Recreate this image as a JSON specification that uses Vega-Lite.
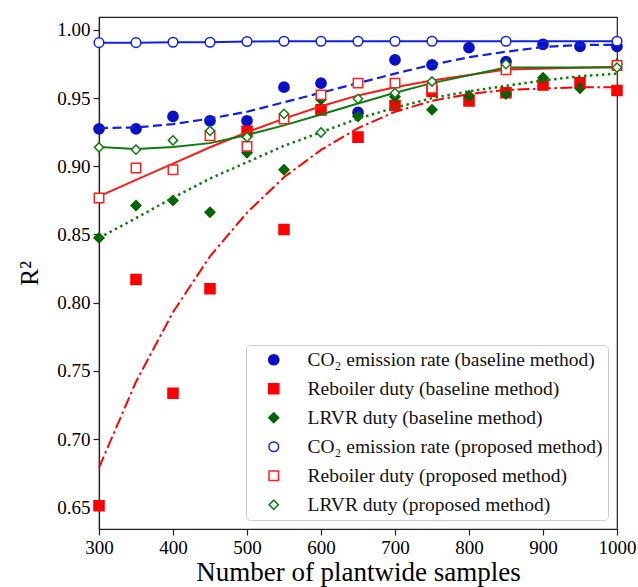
{
  "$schema": "https://vega.github.io/schema/vega-lite/v6.json",
  "width": 518,
  "height": 512,
  "autosize": {"type": "none"},
  "padding": {"left": 99, "top": 17, "right": 21, "bottom": 58},
  "background": "white",
  "config": {
    "view": {"stroke": "#222", "strokeWidth": 1.2},
    "axis": {
      "labelFont": "Liberation Serif", "labelFontSize": 19, "labelColor": "#000", "labelFlush": false, "labelOverlap": false,
      "titleFont": "Liberation Serif", "titleFontSize": 26, "titleFontWeight": "normal", "titleColor": "#000",
      "domainColor": "#222", "tickColor": "#222", "tickSize": 6, "domainWidth": 1.2, "tickWidth": 1.2, "grid": false
    },
    "legend": {
      "orient": "bottom-right", "offset": 9, "title": null,
      "labelFont": "Liberation Serif", "labelFontSize": 19.5, "labelColor": "#111", "labelLimit": 400,
      "padding": 5, "rowPadding": 8, "strokeColor": "#cccccc", "fillColor": "rgba(255,255,255,0.85)", "cornerRadius": 4,
      "symbolOffset": 13, "labelOffset": 24, "symbolStrokeWidth": 1.5
    }
  },
  "datasets": {
    "pts": [
      {"n": 300, "r2": 0.9275, "s": "CO₂ emission rate (baseline method)"},
      {"n": 350, "r2": 0.9275, "s": "CO₂ emission rate (baseline method)"},
      {"n": 400, "r2": 0.9366, "s": "CO₂ emission rate (baseline method)"},
      {"n": 450, "r2": 0.9334, "s": "CO₂ emission rate (baseline method)"},
      {"n": 500, "r2": 0.9334, "s": "CO₂ emission rate (baseline method)"},
      {"n": 550, "r2": 0.958, "s": "CO₂ emission rate (baseline method)"},
      {"n": 600, "r2": 0.961, "s": "CO₂ emission rate (baseline method)"},
      {"n": 650, "r2": 0.9395, "s": "CO₂ emission rate (baseline method)"},
      {"n": 700, "r2": 0.978, "s": "CO₂ emission rate (baseline method)"},
      {"n": 750, "r2": 0.9744, "s": "CO₂ emission rate (baseline method)"},
      {"n": 800, "r2": 0.987, "s": "CO₂ emission rate (baseline method)"},
      {"n": 850, "r2": 0.9768, "s": "CO₂ emission rate (baseline method)"},
      {"n": 900, "r2": 0.9895, "s": "CO₂ emission rate (baseline method)"},
      {"n": 950, "r2": 0.988, "s": "CO₂ emission rate (baseline method)"},
      {"n": 1000, "r2": 0.988, "s": "CO₂ emission rate (baseline method)"},
      {"n": 300, "r2": 0.651, "s": "Reboiler duty (baseline method)"},
      {"n": 350, "r2": 0.817, "s": "Reboiler duty (baseline method)"},
      {"n": 400, "r2": 0.7335, "s": "Reboiler duty (baseline method)"},
      {"n": 450, "r2": 0.8102, "s": "Reboiler duty (baseline method)"},
      {"n": 500, "r2": 0.9256, "s": "Reboiler duty (baseline method)"},
      {"n": 550, "r2": 0.8536, "s": "Reboiler duty (baseline method)"},
      {"n": 600, "r2": 0.9414, "s": "Reboiler duty (baseline method)"},
      {"n": 650, "r2": 0.9214, "s": "Reboiler duty (baseline method)"},
      {"n": 700, "r2": 0.9446, "s": "Reboiler duty (baseline method)"},
      {"n": 750, "r2": 0.955, "s": "Reboiler duty (baseline method)"},
      {"n": 800, "r2": 0.948, "s": "Reboiler duty (baseline method)"},
      {"n": 850, "r2": 0.954, "s": "Reboiler duty (baseline method)"},
      {"n": 900, "r2": 0.9597, "s": "Reboiler duty (baseline method)"},
      {"n": 950, "r2": 0.9614, "s": "Reboiler duty (baseline method)"},
      {"n": 1000, "r2": 0.9556, "s": "Reboiler duty (baseline method)"},
      {"n": 300, "r2": 0.8475, "s": "LRVR duty (baseline method)"},
      {"n": 350, "r2": 0.8712, "s": "LRVR duty (baseline method)"},
      {"n": 400, "r2": 0.875, "s": "LRVR duty (baseline method)"},
      {"n": 450, "r2": 0.8663, "s": "LRVR duty (baseline method)"},
      {"n": 500, "r2": 0.910, "s": "LRVR duty (baseline method)"},
      {"n": 550, "r2": 0.8975, "s": "LRVR duty (baseline method)"},
      {"n": 600, "r2": 0.949, "s": "LRVR duty (baseline method)"},
      {"n": 650, "r2": 0.9366, "s": "LRVR duty (baseline method)"},
      {"n": 700, "r2": 0.951, "s": "LRVR duty (baseline method)"},
      {"n": 750, "r2": 0.9414, "s": "LRVR duty (baseline method)"},
      {"n": 800, "r2": 0.9517, "s": "LRVR duty (baseline method)"},
      {"n": 850, "r2": 0.9531, "s": "LRVR duty (baseline method)"},
      {"n": 900, "r2": 0.965, "s": "LRVR duty (baseline method)"},
      {"n": 950, "r2": 0.9573, "s": "LRVR duty (baseline method)"},
      {"n": 1000, "r2": 0.975, "s": "LRVR duty (baseline method)"},
      {"n": 300, "r2": 0.9907, "s": "CO₂ emission rate (proposed method)"},
      {"n": 350, "r2": 0.9907, "s": "CO₂ emission rate (proposed method)"},
      {"n": 400, "r2": 0.991, "s": "CO₂ emission rate (proposed method)"},
      {"n": 450, "r2": 0.991, "s": "CO₂ emission rate (proposed method)"},
      {"n": 500, "r2": 0.9915, "s": "CO₂ emission rate (proposed method)"},
      {"n": 550, "r2": 0.9917, "s": "CO₂ emission rate (proposed method)"},
      {"n": 600, "r2": 0.9917, "s": "CO₂ emission rate (proposed method)"},
      {"n": 650, "r2": 0.9917, "s": "CO₂ emission rate (proposed method)"},
      {"n": 700, "r2": 0.9917, "s": "CO₂ emission rate (proposed method)"},
      {"n": 750, "r2": 0.9917, "s": "CO₂ emission rate (proposed method)"},
      {"n": 850, "r2": 0.9917, "s": "CO₂ emission rate (proposed method)"},
      {"n": 1000, "r2": 0.9917, "s": "CO₂ emission rate (proposed method)"},
      {"n": 300, "r2": 0.8768, "s": "Reboiler duty (proposed method)"},
      {"n": 350, "r2": 0.8988, "s": "Reboiler duty (proposed method)"},
      {"n": 400, "r2": 0.8975, "s": "Reboiler duty (proposed method)"},
      {"n": 450, "r2": 0.9224, "s": "Reboiler duty (proposed method)"},
      {"n": 500, "r2": 0.9146, "s": "Reboiler duty (proposed method)"},
      {"n": 550, "r2": 0.9346, "s": "Reboiler duty (proposed method)"},
      {"n": 600, "r2": 0.9524, "s": "Reboiler duty (proposed method)"},
      {"n": 650, "r2": 0.961, "s": "Reboiler duty (proposed method)"},
      {"n": 700, "r2": 0.961, "s": "Reboiler duty (proposed method)"},
      {"n": 750, "r2": 0.9573, "s": "Reboiler duty (proposed method)"},
      {"n": 850, "r2": 0.9707, "s": "Reboiler duty (proposed method)"},
      {"n": 1000, "r2": 0.9739, "s": "Reboiler duty (proposed method)"},
      {"n": 300, "r2": 0.9139, "s": "LRVR duty (proposed method)"},
      {"n": 350, "r2": 0.9122, "s": "LRVR duty (proposed method)"},
      {"n": 400, "r2": 0.919, "s": "LRVR duty (proposed method)"},
      {"n": 450, "r2": 0.926, "s": "LRVR duty (proposed method)"},
      {"n": 500, "r2": 0.9214, "s": "LRVR duty (proposed method)"},
      {"n": 550, "r2": 0.9385, "s": "LRVR duty (proposed method)"},
      {"n": 600, "r2": 0.9248, "s": "LRVR duty (proposed method)"},
      {"n": 650, "r2": 0.9495, "s": "LRVR duty (proposed method)"},
      {"n": 700, "r2": 0.9537, "s": "LRVR duty (proposed method)"},
      {"n": 750, "r2": 0.9622, "s": "LRVR duty (proposed method)"},
      {"n": 850, "r2": 0.9749, "s": "LRVR duty (proposed method)"},
      {"n": 1000, "r2": 0.9724, "s": "LRVR duty (proposed method)"}
    ],
    "fits": [
      {"n": 300, "r2": 0.928, "f": "co2b"}, {"n": 350, "r2": 0.9285, "f": "co2b"}, {"n": 400, "r2": 0.931, "f": "co2b"},
      {"n": 450, "r2": 0.935, "f": "co2b"}, {"n": 500, "r2": 0.940, "f": "co2b"}, {"n": 550, "r2": 0.947, "f": "co2b"},
      {"n": 600, "r2": 0.954, "f": "co2b"}, {"n": 650, "r2": 0.961, "f": "co2b"}, {"n": 700, "r2": 0.968, "f": "co2b"},
      {"n": 750, "r2": 0.9745, "f": "co2b"}, {"n": 800, "r2": 0.980, "f": "co2b"}, {"n": 850, "r2": 0.984, "f": "co2b"},
      {"n": 900, "r2": 0.9875, "f": "co2b"}, {"n": 950, "r2": 0.989, "f": "co2b"}, {"n": 1000, "r2": 0.989, "f": "co2b"},
      {"n": 300, "r2": 0.679, "f": "rebb"}, {"n": 350, "r2": 0.742, "f": "rebb"}, {"n": 400, "r2": 0.793, "f": "rebb"},
      {"n": 450, "r2": 0.834, "f": "rebb"}, {"n": 500, "r2": 0.866, "f": "rebb"}, {"n": 550, "r2": 0.892, "f": "rebb"},
      {"n": 600, "r2": 0.912, "f": "rebb"}, {"n": 650, "r2": 0.928, "f": "rebb"}, {"n": 700, "r2": 0.940, "f": "rebb"},
      {"n": 750, "r2": 0.948, "f": "rebb"}, {"n": 800, "r2": 0.953, "f": "rebb"}, {"n": 850, "r2": 0.956, "f": "rebb"},
      {"n": 900, "r2": 0.957, "f": "rebb"}, {"n": 950, "r2": 0.958, "f": "rebb"}, {"n": 1000, "r2": 0.958, "f": "rebb"},
      {"n": 300, "r2": 0.8475, "f": "lrvb"}, {"n": 350, "r2": 0.862, "f": "lrvb"}, {"n": 400, "r2": 0.877, "f": "lrvb"},
      {"n": 450, "r2": 0.891, "f": "lrvb"}, {"n": 500, "r2": 0.903, "f": "lrvb"}, {"n": 550, "r2": 0.915, "f": "lrvb"},
      {"n": 600, "r2": 0.925, "f": "lrvb"}, {"n": 650, "r2": 0.935, "f": "lrvb"}, {"n": 700, "r2": 0.943, "f": "lrvb"},
      {"n": 750, "r2": 0.950, "f": "lrvb"}, {"n": 800, "r2": 0.955, "f": "lrvb"}, {"n": 850, "r2": 0.959, "f": "lrvb"},
      {"n": 900, "r2": 0.963, "f": "lrvb"}, {"n": 950, "r2": 0.966, "f": "lrvb"}, {"n": 1000, "r2": 0.968, "f": "lrvb"},
      {"n": 300, "r2": 0.9907, "f": "co2p"}, {"n": 350, "r2": 0.9907, "f": "co2p"}, {"n": 400, "r2": 0.991, "f": "co2p"},
      {"n": 450, "r2": 0.991, "f": "co2p"}, {"n": 500, "r2": 0.9915, "f": "co2p"}, {"n": 550, "r2": 0.9917, "f": "co2p"},
      {"n": 600, "r2": 0.9917, "f": "co2p"}, {"n": 650, "r2": 0.9917, "f": "co2p"}, {"n": 700, "r2": 0.9917, "f": "co2p"},
      {"n": 750, "r2": 0.9917, "f": "co2p"}, {"n": 850, "r2": 0.9917, "f": "co2p"}, {"n": 1000, "r2": 0.9917, "f": "co2p"},
      {"n": 300, "r2": 0.878, "f": "rebp"}, {"n": 350, "r2": 0.890, "f": "rebp"}, {"n": 400, "r2": 0.902, "f": "rebp"},
      {"n": 450, "r2": 0.914, "f": "rebp"}, {"n": 500, "r2": 0.925, "f": "rebp"}, {"n": 550, "r2": 0.935, "f": "rebp"},
      {"n": 600, "r2": 0.944, "f": "rebp"}, {"n": 650, "r2": 0.952, "f": "rebp"}, {"n": 700, "r2": 0.958, "f": "rebp"},
      {"n": 750, "r2": 0.963, "f": "rebp"}, {"n": 850, "r2": 0.971, "f": "rebp"}, {"n": 1000, "r2": 0.973, "f": "rebp"},
      {"n": 300, "r2": 0.9141, "f": "lrvp"}, {"n": 350, "r2": 0.9127, "f": "lrvp"}, {"n": 400, "r2": 0.9141, "f": "lrvp"},
      {"n": 450, "r2": 0.917, "f": "lrvp"}, {"n": 500, "r2": 0.923, "f": "lrvp"}, {"n": 550, "r2": 0.930, "f": "lrvp"},
      {"n": 600, "r2": 0.938, "f": "lrvp"}, {"n": 650, "r2": 0.946, "f": "lrvp"}, {"n": 700, "r2": 0.954, "f": "lrvp"},
      {"n": 750, "r2": 0.961, "f": "lrvp"}, {"n": 850, "r2": 0.9724, "f": "lrvp"}, {"n": 1000, "r2": 0.9724, "f": "lrvp"}
    ]
  },
  "encoding": {
    "x": {"field": "n", "type": "quantitative",
      "scale": {"domain": [300, 1000], "nice": false, "zero": false},
      "axis": {"title": "Number of plantwide samples", "values": [300, 400, 500, 600, 700, 800, 900, 1000], "format": "d", "labelPadding": 3, "titlePadding": 2, "titleFontSize": 27}},
    "y": {"field": "r2", "type": "quantitative",
      "scale": {"domain": [0.634, 1.0095], "nice": false, "zero": false},
      "axis": {"title": "R²", "values": [0.65, 0.7, 0.75, 0.8, 0.85, 0.9, 0.95, 1.0], "format": ".2f", "labelPadding": 3, "titlePadding": 14}}
  },
  "layer": [
    {
      "data": {"name": "pts"},
      "transform": [{"filter": "indexof(datum.s, 'baseline') >= 0"}],
      "mark": {"type": "point", "opacity": 1, "strokeWidth": 1.5, "clip": false},
      "encoding": {
        "shape": {"field": "s", "type": "nominal", "scale": {"domain": ["CO₂ emission rate (baseline method)", "Reboiler duty (baseline method)", "LRVR duty (baseline method)", "CO₂ emission rate (proposed method)", "Reboiler duty (proposed method)", "LRVR duty (proposed method)"], "range": ["circle", "square", "diamond", "circle", "square", "diamond"]}},
        "fill": {"field": "s", "type": "nominal", "scale": {"domain": ["CO₂ emission rate (baseline method)", "Reboiler duty (baseline method)", "LRVR duty (baseline method)", "CO₂ emission rate (proposed method)", "Reboiler duty (proposed method)", "LRVR duty (proposed method)"], "range": ["#0a10c4", "#ff0000", "#006400", "#ffffff", "#ffffff", "#ffffff"]}},
        "stroke": {"field": "s", "type": "nominal", "scale": {"domain": ["CO₂ emission rate (baseline method)", "Reboiler duty (baseline method)", "LRVR duty (baseline method)", "CO₂ emission rate (proposed method)", "Reboiler duty (proposed method)", "LRVR duty (proposed method)"], "range": ["#0a10c4", "#ff0000", "#006400", "#1020e0", "#ff2020", "#127a12"]}},
        "size": {"field": "s", "type": "nominal", "scale": {"domain": ["CO₂ emission rate (baseline method)", "Reboiler duty (baseline method)", "LRVR duty (baseline method)", "CO₂ emission rate (proposed method)", "Reboiler duty (proposed method)", "LRVR duty (proposed method)"], "range": [105, 85, 165, 105, 105, 165]}}
      }
    },
    {
      "data": {"name": "fits"},
      "transform": [{"filter": "datum.f === 'co2b'"}],
      "mark": {"type": "line", "stroke": "#1020e0", "strokeWidth": 2.2, "strokeDash": [9, 4.5], "clip": false},
      "encoding": {}
    },
    {
      "data": {"name": "fits"},
      "transform": [{"filter": "datum.f === 'rebb'"}],
      "mark": {"type": "line", "stroke": "#ff0000", "strokeWidth": 2, "strokeDash": [12, 3.5, 2.5, 3.5], "clip": false},
      "encoding": {}
    },
    {
      "data": {"name": "fits"},
      "transform": [{"filter": "datum.f === 'lrvb'"}],
      "mark": {"type": "line", "stroke": "#127a12", "strokeWidth": 2.5, "strokeDash": [2.5, 3.5], "clip": false},
      "encoding": {}
    },
    {
      "data": {"name": "fits"},
      "transform": [{"filter": "datum.f === 'co2p'"}],
      "mark": {"type": "line", "stroke": "#1020e0", "strokeWidth": 2, "clip": false},
      "encoding": {}
    },
    {
      "data": {"name": "fits"},
      "transform": [{"filter": "datum.f === 'rebp'"}],
      "mark": {"type": "line", "stroke": "#ff1a1a", "strokeWidth": 2, "clip": false},
      "encoding": {}
    },
    {
      "data": {"name": "fits"},
      "transform": [{"filter": "datum.f === 'lrvp'"}],
      "mark": {"type": "line", "stroke": "#127a12", "strokeWidth": 2, "clip": false},
      "encoding": {}
    },
    {
      "data": {"name": "pts"},
      "transform": [{"filter": "indexof(datum.s, 'proposed') >= 0"}],
      "mark": {"type": "point", "opacity": 1, "strokeWidth": 1.5, "clip": false},
      "encoding": {
        "shape": {"field": "s", "type": "nominal"},
        "fill": {"field": "s", "type": "nominal"},
        "stroke": {"field": "s", "type": "nominal"},
        "size": {"field": "s", "type": "nominal"}
      }
    }
  ]
}
